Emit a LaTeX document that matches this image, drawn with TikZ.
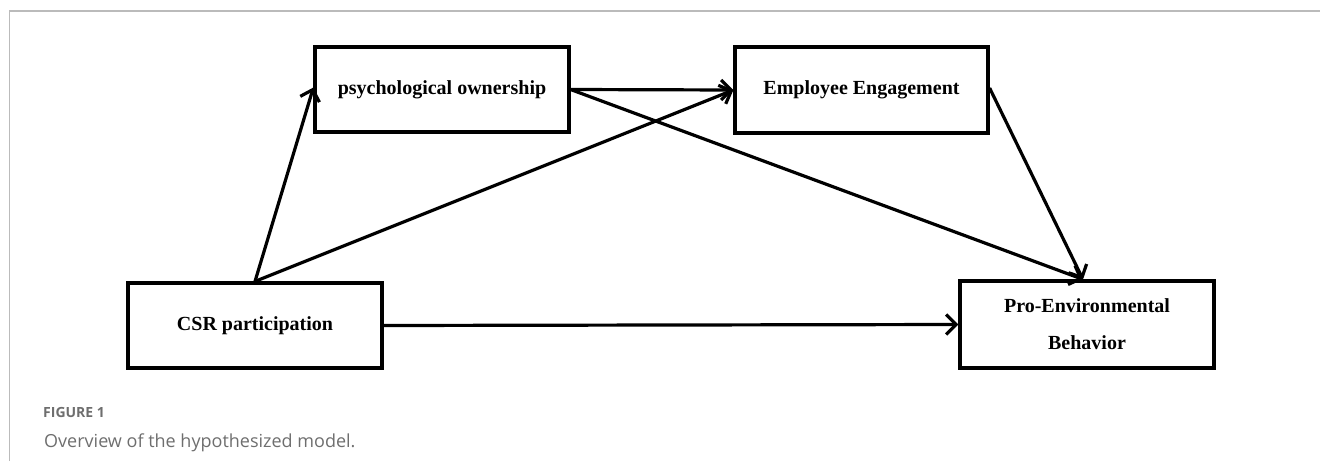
\documentclass[tikz,border=0pt]{standalone}
\usepackage{fontspec}
\setmainfont{Liberation Serif}
\newfontfamily\capfont{Open Sans}
\usetikzlibrary{arrows.meta,calc}
\definecolor{framegray}{HTML}{BBBBBB}
\definecolor{capgray}{HTML}{6E6E6E}
\begin{document}
\begin{tikzpicture}[x=1pt,y=-1pt,
  box/.style={draw=black,line width=3.2pt,minimum width=254pt,minimum height=85pt,inner sep=0pt,align=center,
    font=\fontsize{20}{37}\selectfont\bfseries},
  link/.style={line width=3.2pt,-{Straight Barb[length=10pt,width=20pt,line width=3.2pt]}}]
\useasboundingbox (0,0) rectangle (1320,461);
\draw[framegray,line width=1.5pt] (9.5,461) -- (9.5,11) -- (1320,11);
\node[box] (psy) at (442,89.5) {psychological ownership};
\node[box,minimum width=253pt,minimum height=86pt] (ee) at (861.5,90) {Employee Engagement};
\node[box] (csr) at (255,325.5) {CSR participation};
\node[box,minimum height=87pt] (peb) at (1087,324.5) {Pro-Environmental\\Behavior};
\coordinate (pebtop) at ([xshift=-4pt]peb.north);
\draw[link] (csr.north) -- ([yshift=2pt]psy.west);
\draw[link] (psy.east) -- (ee.west);
\draw[link] (csr.north) -- (ee.west);
\draw[link] (psy.east) -- (pebtop);
\draw[link] ([yshift=2pt]ee.east) -- (pebtop);
\draw[link] (csr.east) -- (peb.west);
\node[anchor=base west,inner sep=0pt,text=capgray,font=\capfont\fontsize{14}{16}\selectfont\bfseries] (fig) at (43,417) {FIGURE 1};
\node[anchor=base west,inner sep=0pt,text=capgray,font=\capfont\fontsize{18}{20}\selectfont] (cap) at (44,447) {Overview of the hypothesized model.};
\end{tikzpicture}
\end{document}
